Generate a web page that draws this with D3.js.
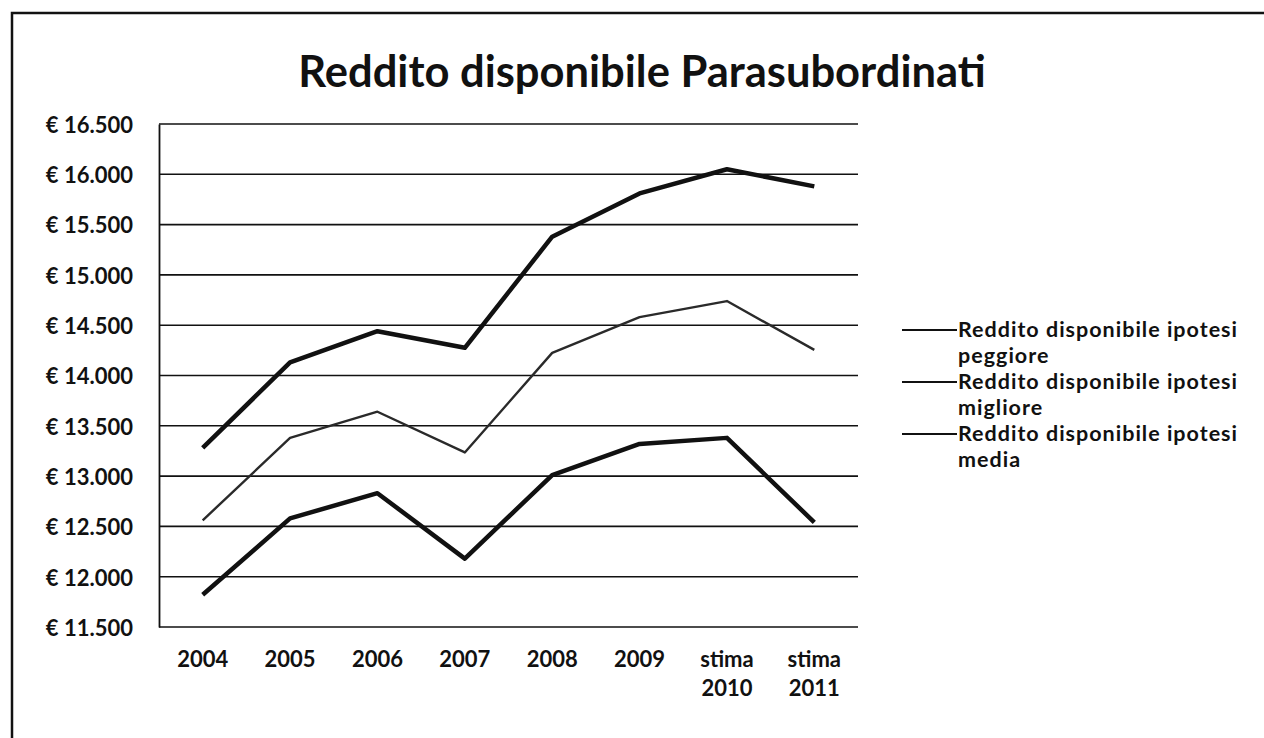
<!DOCTYPE html>
<html>
<head>
<meta charset="utf-8">
<script src="https://cdn.jsdelivr.net/npm/d3@7"></script>
<style>
  html, body { margin: 0; padding: 0; background: #fff; }
  svg { display: block; }
</style>
</head>
<body>
<svg id="chart" width="1264" height="738"></svg>
<script>
const title = "Reddito disponibile Parasubordinati";
const categories = ["2004", "2005", "2006", "2007", "2008", "2009", "stima 2010", "stima 2011"];
const peggiore = [11820, 12580, 12830, 12180, 13010, 13320, 13380, 12540];
const migliore = [13280, 14130, 14440, 14275, 15380, 15810, 16050, 15880];
const media = [12560, 13380, 13640, 13235, 14225, 14580, 14740, 14255];
const yTicks = [11500, 12000, 12500, 13000, 13500, 14000, 14500, 15000, 15500, 16000, 16500];
const seriesNames = ["Reddito disponibile ipotesi peggiore", "Reddito disponibile ipotesi migliore", "Reddito disponibile ipotesi media"];

const series = [
  { name: seriesNames[0], values: peggiore, width: 4.5, color: "#111" },
  { name: seriesNames[1], values: migliore, width: 4.5, color: "#111" },
  { name: seriesNames[2], values: media, width: 2.4, color: "#2a2a2a" }
];

const svg = d3.select("#chart");
const font = "Lato, 'Open Sans', sans-serif";

// outer frame
svg.append("path")
  .attr("d", "M12,738 L12,13 L1264,13")
  .attr("fill", "none").attr("stroke", "#111").attr("stroke-width", 2.5);

const plot = { left: 159, right: 858, top: 124, bottom: 627 };

const x = d3.scaleBand().domain(categories).range([plot.left, plot.right]);
const y = d3.scaleLinear().domain([11500, 16500]).range([plot.bottom, plot.top]);

// title
svg.append("text")
  .attr("x", 642).attr("y", 87)
  .attr("text-anchor", "middle")
  .attr("font-family", font).attr("font-weight", 700)
  .attr("font-size", 43.5)
  .attr("fill", "#111")
  .text(title);

// gridlines
svg.append("g").selectAll("line").data(yTicks).join("line")
  .attr("x1", plot.left).attr("x2", plot.right)
  .attr("y1", d => y(d)).attr("y2", d => y(d))
  .attr("stroke", "#111").attr("stroke-width", 1.6);

// y axis
const fmt = d => "€ " + d3.format(",")(d).replace(/,/g, ".");
const yAxis = svg.append("g")
  .attr("transform", `translate(${plot.left},0)`)
  .call(d3.axisLeft(y).tickValues(yTicks).tickFormat(fmt).tickSize(0).tickPadding(26));
yAxis.select(".domain").attr("stroke", "#111").attr("stroke-width", 1.8);
yAxis.selectAll("text")
  .attr("font-family", font).attr("font-weight", 700).attr("font-size", 22)
  .attr("dy", "0.38em")
  .attr("fill", "#111");

// x axis labels
const xAxis = svg.append("g")
  .attr("transform", `translate(0,${plot.bottom})`)
  .call(d3.axisBottom(x).tickSize(0).tickPadding(0));
xAxis.select(".domain").remove();
xAxis.selectAll("text").each(function(d) {
  const t = d3.select(this);
  t.text(null).attr("y", null).attr("dy", null)
    .attr("font-family", font).attr("font-weight", 700).attr("font-size", 22)
    .attr("fill", "#111");
  d.split(" ").forEach((w, i) => {
    t.append("tspan").attr("x", 0).attr("y", 40 + i * 29).text(w);
  });
});

// lines
const line = d3.line()
  .x((d, i) => x(categories[i]) + x.bandwidth() / 2)
  .y(d => y(d));

svg.append("g").selectAll("path").data(series).join("path")
  .attr("d", d => line(d.values))
  .attr("fill", "none")
  .attr("stroke", d => d.color)
  .attr("stroke-width", d => d.width)
  .attr("stroke-linejoin", "round");

// legend
const legendY = [330, 382, 434];
const lg = svg.append("g");
series.forEach((s, i) => {
  const g = lg.append("g").attr("transform", `translate(0,${legendY[i]})`);
  g.append("line").attr("x1", 902).attr("x2", 957).attr("y1", 0).attr("y2", 0)
    .attr("stroke", "#111").attr("stroke-width", 2.2);
  const words = s.name.split(" ");
  const t = g.append("text")
    .attr("font-family", font).attr("font-weight", 700).attr("font-size", 21.5)
    .attr("letter-spacing", 1)
    .attr("fill", "#111");
  t.append("tspan").attr("x", 958).attr("y", 7).text(words.slice(0, 3).join(" "));
  t.append("tspan").attr("x", 958).attr("y", 33).text(words.slice(3).join(" "));
});
</script>
</body>
</html>
